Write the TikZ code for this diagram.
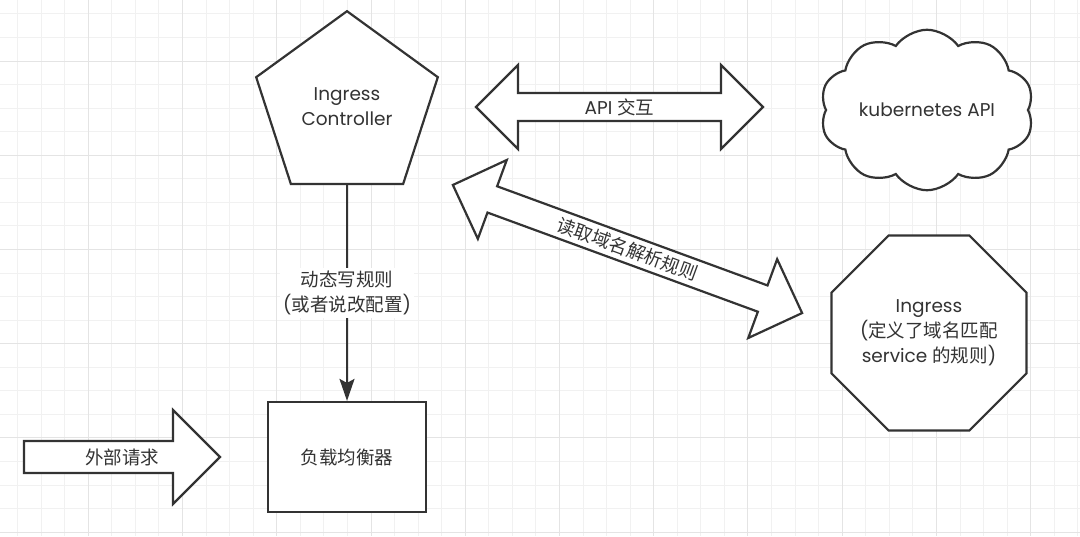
\documentclass[tikz,border=0pt]{standalone}
\usepackage{fontspec}
\setmainfont{Poppins}
\newfontfamily\cjk{Noto Sans CJK SC}
\usetikzlibrary{shapes.geometric, shapes.symbols, arrows.meta, positioning}
\definecolor{ink}{HTML}{333333}
\definecolor{gridminor}{HTML}{F1F1F1}
\definecolor{gridmajor}{HTML}{E4E4E4}
% outline of a fat double arrow, half length #1, centred at the origin
\newcommand{\twowayoutline}[1]{(-#1,0) -- (-#1+42,-42) -- (-#1+42,-14) -- (#1-42,-14) -- (#1-42,-42) -- (#1,0) -- (#1-42,42) -- (#1-42,14) -- (-#1+42,14) -- (-#1+42,42) -- cycle}
\tikzset{
    shapebox/.style={draw=ink, line width=2.2pt, fill=white, text=ink, align=center, font=\fontsize{18.5}{25}\selectfont},
    pentagonbox/.style={shapebox, regular polygon, regular polygon sides=5, minimum size=191pt, inner sep=0pt},
    octagonbox/.style={shapebox, regular polygon, regular polygon sides=8, minimum size=201pt, inner sep=0pt},
    cloudbox/.style={shapebox, cloud, cloud puffs=10, cloud puff arc=110, minimum width=206pt, minimum height=135pt, aspect=1.5},
    rectbox/.style={shapebox, rectangle, minimum width=158pt, minimum height=110pt},
    bigarrow/.style={draw=ink, line width=2.2pt, fill=white, line join=miter},
    arrowtext/.style={text=ink, inner sep=0pt, font=\fontsize{18.5}{25}\selectfont},
    arrow/.style={draw=ink, line width=2pt, -{Stealth[length=22pt, width=15pt, inset=4pt]}},
    rulelabel/.style={fill=white, text=ink, align=center, inner sep=3pt, font=\fontsize{18.5}{25}\selectfont}
}
\begin{document}
\begin{tikzpicture}[x=1pt, y=-1pt]
    % Grid
    \useasboundingbox (0,0) rectangle (1080,536);
    \fill[white] (0,0) rectangle (1080,536);
    \foreach \i in {0,...,45}
        \draw[gridminor, line width=1pt] ({17.6+23.56*\i},0) -- ++(0,536);
    \foreach \j in {0,...,22}
        \draw[gridminor, line width=1pt] (0,{13.9+23.56*\j}) -- ++(1080,0);
    \foreach \i in {0,...,10}
        \draw[gridmajor, line width=1pt] ({88.3+94.24*\i},0) -- ++(0,536);
    \foreach \j in {0,...,5}
        \draw[gridmajor, line width=1pt] (0,{61+94.24*\j}) -- ++(1080,0);
    % Nodes
    \node (controller) [pentagonbox] at (347,106.7) {Ingress\\Controller};
    \node (balancer) [rectbox] at (347,457) {\cjk 负载均衡器};
    \node (k8sapi) [cloudbox] at (927,110) {kubernetes API};
    \node (ingress) [octagonbox] at (929,333) {Ingress\\({\cjk 定义了域名匹配}\\service {\cjk 的规则})};
    % Fat arrows
    \begin{scope}[shift={(619.5,107)}]
        \draw [bigarrow] \twowayoutline{143.5};
        \node (apilabel) [arrowtext] at (0,0) {API {\cjk 交互}};
    \end{scope}
    \begin{scope}[shift={(627.5,249)}, rotate=-20.14]
        \draw [bigarrow] \twowayoutline{186};
        \node (readlabel) [arrowtext, rotate=-20.14] at (0,0) {\cjk 读取域名解析规则};
    \end{scope}
    \draw [bigarrow] (24,441) -- (173,441) -- (173,410) -- (220,457) -- (173,504) -- (173,473) -- (24,473) -- cycle;
    \node (request) [arrowtext] at (122,457) {\cjk 外部请求};
    % Arrows
    \draw [arrow] (controller.south) -- node[rulelabel] {{\cjk 动态写规则}\\({\cjk 或者说改配置})} (balancer);
\end{tikzpicture}
\end{document}
